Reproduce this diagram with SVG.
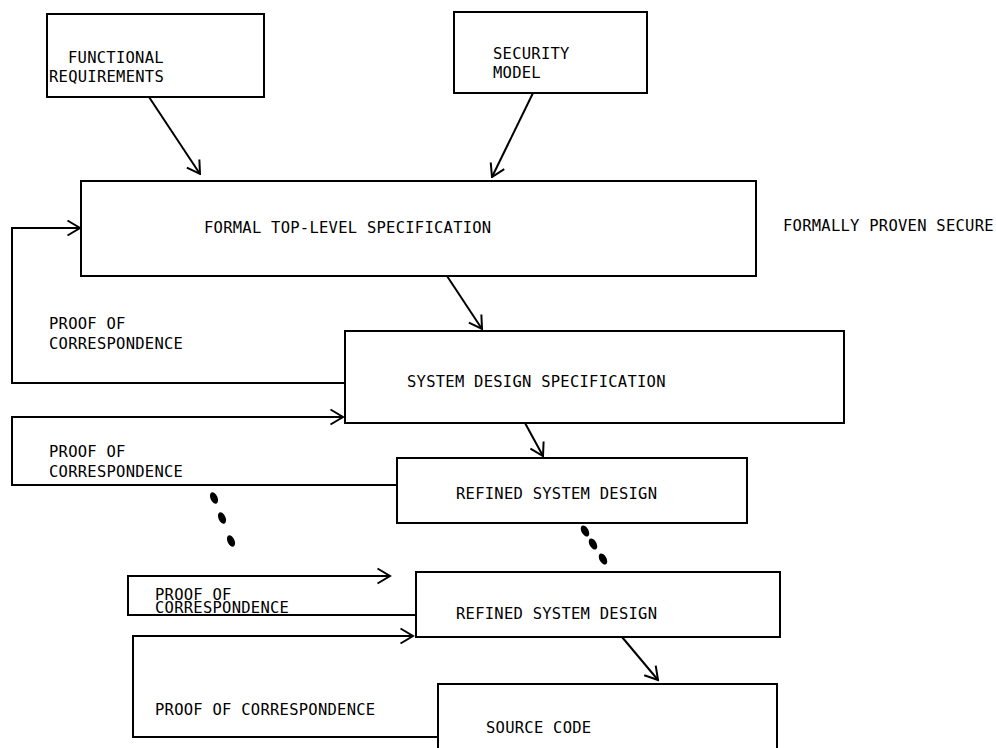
<svg xmlns="http://www.w3.org/2000/svg" width="996" height="748" viewBox="0 0 996 748">
<style>
.box{fill:none;stroke:#000;stroke-width:2}
.ln{fill:none;stroke:#000;stroke-width:2}
.t{font-family:"DejaVu Sans Mono","Liberation Mono",monospace;font-size:15.5px;letter-spacing:0.25px;fill:#000}
.dot{fill:#000}
</style>
<defs>
<marker id="ah" viewBox="0 0 15 18" refX="13.5" refY="9" markerWidth="15" markerHeight="18" markerUnits="userSpaceOnUse" orient="auto">
<path d="M1,1.5 L13.5,9 L1,16.5" fill="none" stroke="#000" stroke-width="2"/>
</marker>
</defs>
<rect width="996" height="748" fill="#fff"/>
<g id="functional-requirements">
<rect class="box" x="47" y="14" width="217" height="83"/>
<text class="t" x="68" y="63">FUNCTIONAL</text>
<text class="t" x="49" y="82">REQUIREMENTS</text>
</g>
<g id="security-model">
<rect class="box" x="454" y="12" width="193" height="81"/>
<text class="t" x="493" y="59">SECURITY</text>
<text class="t" x="493" y="78">MODEL</text>
</g>
<g id="formal-top-level-specification">
<rect class="box" x="81" y="181" width="675" height="95"/>
<text class="t" x="204" y="233">FORMAL TOP-LEVEL SPECIFICATION</text>
</g>
<g id="formally-proven-secure">
<text class="t" x="783" y="231">FORMALLY PROVEN SECURE</text>
</g>
<g id="system-design-specification">
<rect class="box" x="345" y="331" width="499" height="92"/>
<text class="t" x="407" y="387">SYSTEM DESIGN SPECIFICATION</text>
</g>
<g id="refined-system-design-1">
<rect class="box" x="397" y="458" width="350" height="65"/>
<text class="t" x="456" y="499">REFINED SYSTEM DESIGN</text>
</g>
<g id="refined-system-design-2">
<rect class="box" x="416" y="572" width="364" height="65"/>
<text class="t" x="456" y="619">REFINED SYSTEM DESIGN</text>
</g>
<g id="source-code">
<path class="box" d="M438,760 V684 H777 V760"/>
<text class="t" x="486" y="733">SOURCE CODE</text>
</g>
<g id="connectors">
<line class="ln" x1="149" y1="97" x2="200" y2="174" marker-end="url(#ah)"/>
<line class="ln" x1="533" y1="93" x2="492" y2="177" marker-end="url(#ah)"/>
<line class="ln" x1="447" y1="276" x2="482" y2="329" marker-end="url(#ah)"/>
<line class="ln" x1="525" y1="423" x2="543" y2="456" marker-end="url(#ah)"/>
<line class="ln" x1="622" y1="637" x2="658" y2="680" marker-end="url(#ah)"/>
<path class="ln" d="M345,383 H12 V228 H80" marker-end="url(#ah)"/>
<path class="ln" d="M397,485 H12 V417 H343" marker-end="url(#ah)"/>
<path class="ln" d="M416,615 H128 V576 H390" marker-end="url(#ah)"/>
<path class="ln" d="M438,737 H133 V636 H413" marker-end="url(#ah)"/>
<text class="t" x="49" y="329">PROOF OF</text>
<text class="t" x="49" y="349">CORRESPONDENCE</text>
<text class="t" x="49" y="457">PROOF OF</text>
<text class="t" x="49" y="477">CORRESPONDENCE</text>
<text class="t" x="155" y="600">PROOF OF</text>
<text class="t" x="155" y="613">CORRESPONDENCE</text>
<text class="t" x="155" y="715">PROOF OF CORRESPONDENCE</text>
</g>
<g id="continuation-dots">
<ellipse class="dot" cx="214" cy="498" rx="3.5" ry="6" transform="rotate(-25 214 498)"/>
<ellipse class="dot" cx="222" cy="518" rx="3.5" ry="6" transform="rotate(-25 222 518)"/>
<ellipse class="dot" cx="231" cy="541" rx="3.5" ry="6" transform="rotate(-25 231 541)"/>
<ellipse class="dot" cx="585" cy="531" rx="3.5" ry="6" transform="rotate(-30 585 531)"/>
<ellipse class="dot" cx="593" cy="544" rx="3.5" ry="6" transform="rotate(-30 593 544)"/>
<ellipse class="dot" cx="603" cy="559" rx="3.5" ry="6" transform="rotate(-30 603 559)"/>
</g>
</svg>
